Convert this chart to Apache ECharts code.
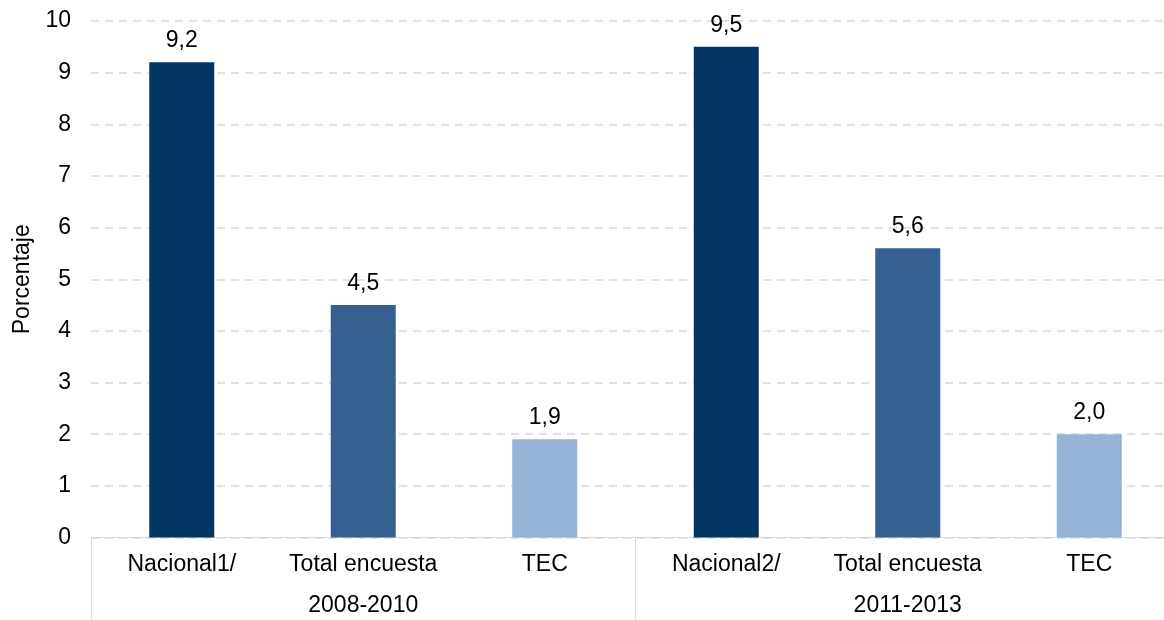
<!DOCTYPE html>
<html>
<head>
<meta charset="utf-8">
<script src="https://cdn.jsdelivr.net/npm/echarts@6/dist/echarts.min.js"></script>
<style>
  html, body { margin: 0; padding: 0; background: #fff; }
  #chart { width: 1164px; height: 620px; }
</style>
</head>
<body>
<div id="chart"></div>
<script>
// categorias y valores (porcentaje)
const categories = ['Nacional1/', 'Total encuesta', 'TEC', 'Nacional2/', 'Total encuesta', 'TEC'];
const groups = ['2008-2010', '2011-2013'];
const values = [9.2, 4.5, 1.9, 9.5, 5.6, 2.0];
const yTicks = [0, 1, 2, 3, 4, 5, 6, 7, 8, 9, 10];

const palette = ['#033662', '#366092', '#95b3d7'];
const font = 'Liberation Sans, Arial, sans-serif';

let myChart = echarts.init(document.getElementById('chart'));

const option = {
  animation: false,
  // el grafico original esta recortado por la derecha
  grid: { left: 91, right: -16, top: 21, bottom: 82.5, containLabel: false, outerBoundsMode: 'none' },
  xAxis: [
    {
      type: 'category',
      data: categories,
      position: 'bottom',
      axisLine: { lineStyle: { color: '#d9d9d9', width: 1 } },
      axisTick: { show: false },
      axisLabel: { color: '#000', fontSize: 23, fontFamily: font, margin: 16, interval: 0 }
    },
    {
      type: 'category',
      data: groups,
      position: 'bottom',
      axisLine: { show: false },
      axisTick: { show: true, length: 83, lineStyle: { color: '#d9d9d9' } },
      axisLabel: { color: '#000', fontSize: 23, fontFamily: font, margin: 57, interval: 0 }
    }
  ],
  yAxis: {
    type: 'value',
    min: yTicks[0],
    max: yTicks[yTicks.length - 1],
    interval: 1,
    name: 'Porcentaje',
    nameLocation: 'middle',
    nameGap: 56,
    nameTextStyle: { color: '#000', fontSize: 23, fontFamily: font },
    axisLine: { show: false },
    axisTick: { show: false },
    axisLabel: { color: '#000', fontSize: 23, fontFamily: font, margin: 20 },
    splitLine: { lineStyle: { color: '#d9d9d9', type: [8, 6], width: 1.5 } }
  },
  series: [
    {
      type: 'bar',
      xAxisIndex: 0,
      barWidth: 65,
      data: values.map((v, i) => ({ value: v, itemStyle: { color: palette[i % 3] } })),
      label: {
        show: true,
        position: 'top',
        distance: 10,
        color: '#000',
        fontSize: 23,
        fontFamily: font,
        formatter: (p) => p.value.toFixed(1).replace('.', ',')
      }
    }
  ]
};

myChart.setOption(option);
window.onresize = myChart.resize;
</script>
</body>
</html>
